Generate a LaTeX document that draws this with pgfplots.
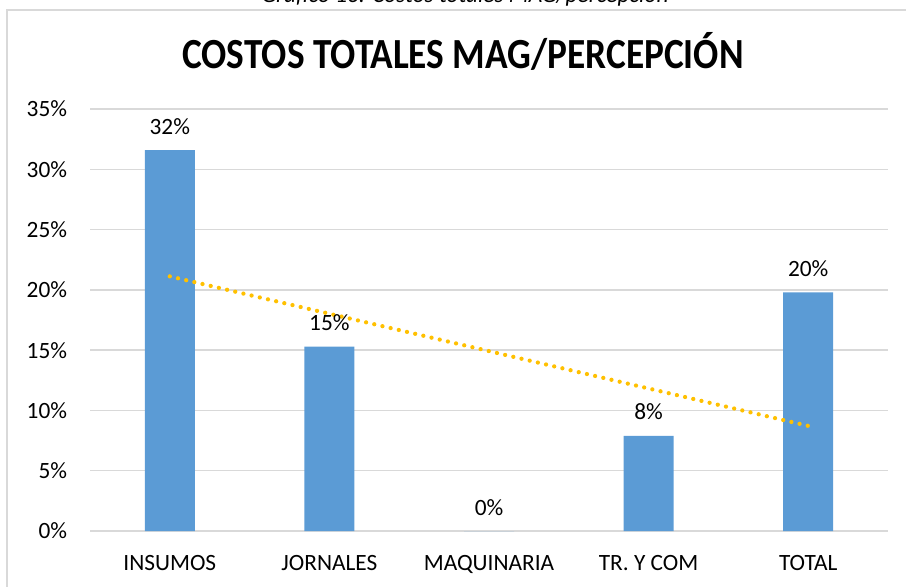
\documentclass[border=0pt]{standalone}
\usepackage{fontspec}
\setmainfont{Carlito}
\usepackage{pgfplots}
\pgfplotsset{compat=1.18}
\definecolor{barblue}{HTML}{5B9BD5}
\definecolor{trendc}{HTML}{FFC000}
\definecolor{gridgray}{HTML}{D9D9D9}
\begin{document}
\begin{tikzpicture}
\begin{scope}[x=0.75pt,y=-0.75pt]
\useasboundingbox (0,0) rectangle (906,586);
\draw[gridgray, line width=1.2pt] (7,600) -- (7,10) -- (920,10);
\node[font=\itshape\fontsize{17.5}{20}\selectfont, anchor=base, inner sep=0pt] at (465,2) {Gráfico 16: Costos totales MAG/percepción};
\node[font=\bfseries\fontsize{28}{34}\selectfont, anchor=base, inner sep=0pt] at (463,68) {\scalebox{1}[1.15]{COSTOS TOTALES MAG/PERCEPCIÓN}};
\end{scope}
\begin{axis}[
  at={(67.5pt,-398.25pt)}, anchor=south west,
  scale only axis, width=598.5pt, height=316.5pt,
  ymin=0, ymax=35, xmin=-0.5, xmax=4.5,
  ytick={0,5,...,35},
  yticklabel={\pgfmathprintnumber{\tick}\%},
  xtick={0,...,4},
  xticklabels={INSUMOS,JORNALES,MAQUINARIA,TR. Y COM,TOTAL},
  ymajorgrids, grid style={gridgray, line width=1pt},
  axis line style={draw=none},
  major tick length=0pt, tick style={draw=none},
  /pgf/number format/assume math mode=true,
  tick label style={font=\fontsize{17.5}{20}\selectfont, text=black, inner sep=0pt},
  yticklabel style={anchor=east, xshift=-17pt},
  xticklabel style={anchor=base, yshift=-29.25pt},
]
\addplot[ybar, bar width=37.5pt, fill=barblue, draw=none,
  nodes near coords={\pgfmathprintnumber[fixed,precision=0]{\pgfplotspointmeta}\%},
  nodes near coords style={anchor=base, yshift=12pt, inner sep=0pt, font=\fontsize{17.5}{20}\selectfont, text=black, /pgf/number format/assume math mode=true}]
  coordinates {(0,31.6) (1,15.3) (2,0) (3,7.9) (4,19.8)};
\addplot[trendc, line width=3.2pt, line cap=round, dash pattern=on 0pt off 6.3pt]
  coordinates {(0,21.12) (4,8.72)};
\end{axis}
\end{tikzpicture}
\end{document}
